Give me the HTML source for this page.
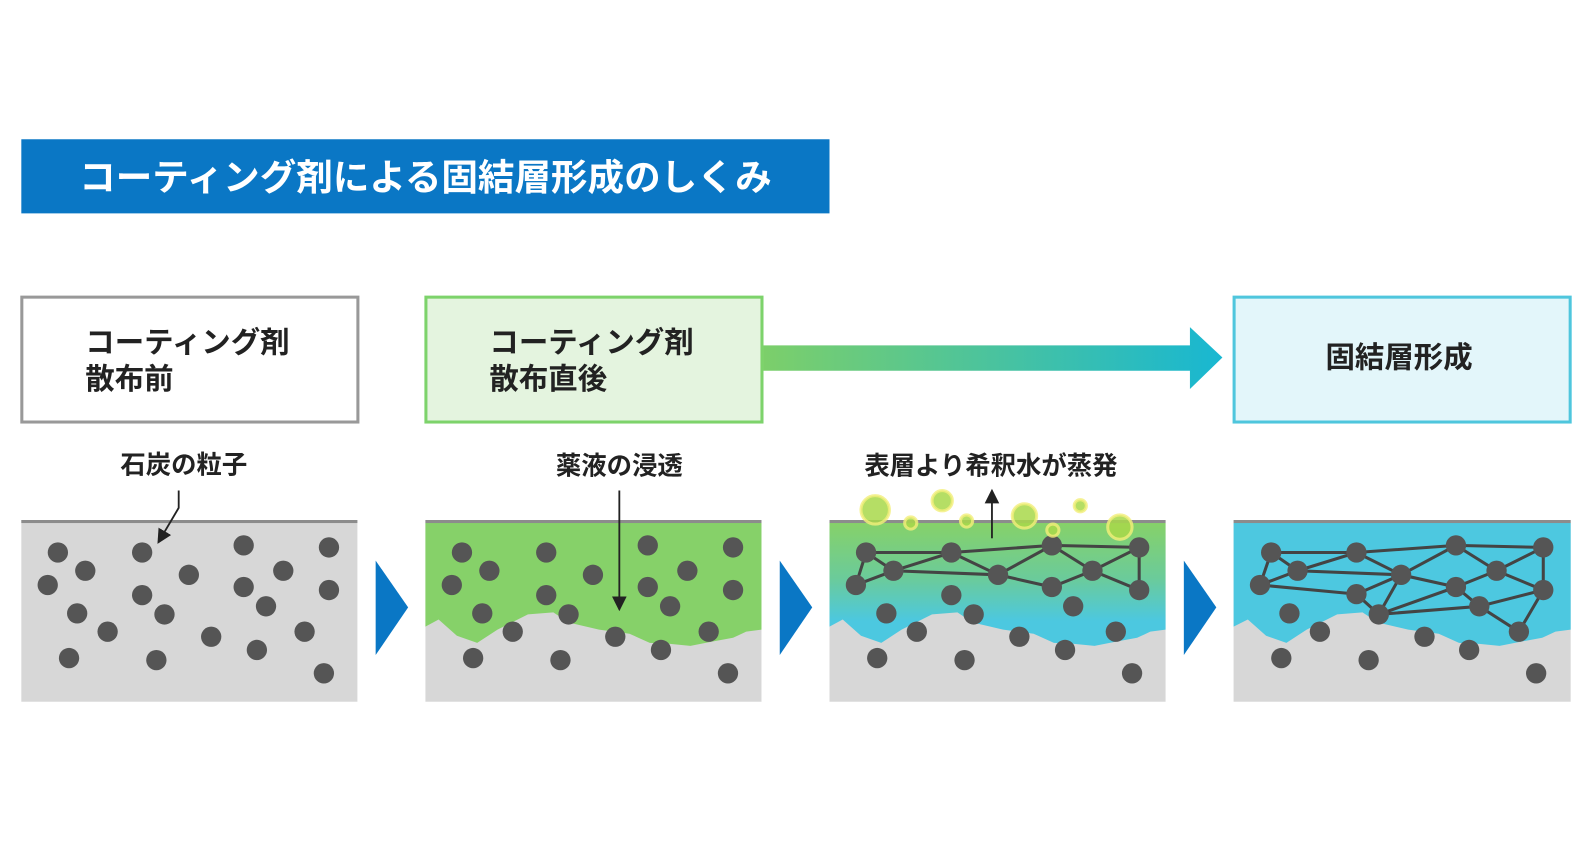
<!DOCTYPE html>
<html><head><meta charset="utf-8"><style>
body{margin:0;width:1592px;height:841px;background:#fff;overflow:hidden}
</style></head><body>
<svg width="1592" height="841" viewBox="0 0 1568 828" xmlns="http://www.w3.org/2000/svg" font-family="'Liberation Sans','Noto Sans CJK JP',sans-serif" font-weight="bold">
<defs>
<linearGradient id="ag" x1="0" x2="1"><stop offset="0" stop-color="#7ccf6a"/><stop offset="1" stop-color="#18b7d2"/></linearGradient>
<linearGradient id="pg" x1="0" y1="0" x2="0" y2="1"><stop offset="0" stop-color="#86d169"/><stop offset="0.45" stop-color="#6bcb9a"/><stop offset="0.8" stop-color="#4cc8e0"/></linearGradient>
<marker id="ah" markerWidth="8" markerHeight="8" refX="7" refY="4" orient="auto"><path d="M0,0 L8,4 L0,8 z" fill="#222"/></marker>
</defs>
<rect x="21" y="137" width="796" height="73" fill="#0a77c5"/>
<text x="78" y="187" fill="#fff" font-size="36">コーティング剤による固結層形成のしくみ</text>

<rect x="21.5" y="292.5" width="331" height="123" fill="#fff" stroke="#999" stroke-width="3"/>
<text x="84" y="347" font-size="29" fill="#222">コーティング剤</text>
<text x="84" y="383" font-size="29" fill="#222">散布前</text>
<rect x="419.5" y="292.5" width="331" height="123" fill="#e4f4df" stroke="#7dd36b" stroke-width="3"/>
<text x="482" y="347" font-size="29" fill="#222">コーティング剤</text>
<text x="482" y="383" font-size="29" fill="#222">散布直後</text>
<path d="M752,340 H1172 V322 L1204,352 L1172,383 V365 H752 Z" fill="url(#ag)"/>
<rect x="1215.5" y="292.5" width="331" height="123" fill="#e3f6fa" stroke="#4fc6dd" stroke-width="3"/>
<text x="1378" y="362" font-size="29" fill="#222" text-anchor="middle">固結層形成</text>

<text x="181" y="466" font-size="25" fill="#222" text-anchor="middle">石炭の粒子</text>
<text x="610" y="467" font-size="25" fill="#222" text-anchor="middle">薬液の浸透</text>
<text x="976" y="467" font-size="25" fill="#222" text-anchor="middle">表層より希釈水が蒸発</text>

<rect x="21" y="512" width="331" height="179" fill="#d7d7d7"/>
<rect x="21" y="512" width="331" height="3" fill="#8c8c8c"/>
<rect x="419" y="512" width="331" height="179" fill="#d7d7d7"/>
<path d="M419,515 H750 V620 L735,622 L722,628 L700,632 L680,636 L660,634 L640,633 L620,624 L590,620 L560,613 L545,603 L520,605 L490,620 L470,633 L450,626 L432,610 L419,617 Z" fill="#86d169"/>
<rect x="419" y="512" width="331" height="3" fill="#8c8c8c"/>
<rect x="817" y="512" width="331" height="179" fill="#d7d7d7"/>
<path d="M817,515 H1148 V620 L1133,622 L1120,628 L1098,632 L1078,636 L1058,634 L1038,633 L1018,624 L988,620 L958,613 L943,603 L918,605 L888,620 L868,633 L848,626 L830,610 L817,617 Z" fill="url(#pg)"/>
<rect x="817" y="512" width="331" height="3" fill="#8c8c8c"/>
<rect x="1215" y="512" width="332" height="179" fill="#d7d7d7"/>
<path d="M1215,515 H1547 V620 L1532,622 L1519,628 L1497,632 L1477,636 L1457,634 L1437,633 L1417,624 L1387,620 L1357,613 L1342,603 L1317,605 L1287,620 L1267,633 L1247,626 L1229,610 L1215,617 Z" fill="#4dc8e0"/>
<rect x="1215" y="512" width="332" height="3" fill="#8c8c8c"/>

<g fill="#0a77c5">
<path d="M370,552 L402,598 L370,645 Z"/>
<path d="M768,552 L800,598 L768,645 Z"/>
<path d="M1166,552 L1198,598 L1166,645 Z"/>
</g>

<g stroke="#444" stroke-width="3" fill="none">
<path d="M853,544 L937,544 L1036,537 L1122,539 M853,544 L843,576 L880,562 L853,544 M880,562 L937,544 L983,566 L1036,537 L1076,562 L1122,539 L1122,581 L1076,562 L1036,578 L983,566 L880,562"/>
<path d="M1252,544 L1336,544 L1434,537 L1520,539 M1252,544 L1241,576 L1278,562 L1252,544 M1278,562 L1336,544 L1380,566 L1434,537 L1474,562 L1520,539 L1520,581 L1474,562 L1434,578 L1380,566 L1278,562 M1241,576 L1336,585 L1380,566 L1358,605 L1434,578 L1457,597 L1520,581 L1496,622 L1457,597 L1358,605 L1336,585 M1434,578 L1474,562"/>
</g>

<g fill="#555">
<circle cx="57" cy="544" r="10"/><circle cx="84" cy="562" r="10"/><circle cx="47" cy="576" r="10"/><circle cx="140" cy="544" r="10"/><circle cx="186" cy="566" r="10"/><circle cx="140" cy="586" r="10"/><circle cx="76" cy="604" r="10"/><circle cx="106" cy="622" r="10"/><circle cx="162" cy="605" r="10"/><circle cx="68" cy="648" r="10"/><circle cx="154" cy="650" r="10"/><circle cx="240" cy="537" r="10"/><circle cx="279" cy="562" r="10"/><circle cx="240" cy="578" r="10"/><circle cx="262" cy="597" r="10"/><circle cx="208" cy="627" r="10"/><circle cx="253" cy="640" r="10"/><circle cx="300" cy="622" r="10"/><circle cx="324" cy="539" r="10"/><circle cx="324" cy="581" r="10"/><circle cx="319" cy="663" r="10"/>
<circle cx="455" cy="544" r="10"/><circle cx="482" cy="562" r="10"/><circle cx="445" cy="576" r="10"/><circle cx="538" cy="544" r="10"/><circle cx="584" cy="566" r="10"/><circle cx="538" cy="586" r="10"/><circle cx="475" cy="604" r="10"/><circle cx="505" cy="622" r="10"/><circle cx="560" cy="605" r="10"/><circle cx="466" cy="648" r="10"/><circle cx="552" cy="650" r="10"/><circle cx="638" cy="537" r="10"/><circle cx="677" cy="562" r="10"/><circle cx="638" cy="578" r="10"/><circle cx="660" cy="597" r="10"/><circle cx="606" cy="627" r="10"/><circle cx="651" cy="640" r="10"/><circle cx="698" cy="622" r="10"/><circle cx="722" cy="539" r="10"/><circle cx="722" cy="581" r="10"/><circle cx="717" cy="663" r="10"/>
<circle cx="853" cy="544" r="10"/><circle cx="880" cy="562" r="10"/><circle cx="843" cy="576" r="10"/><circle cx="937" cy="544" r="10"/><circle cx="983" cy="566" r="10"/><circle cx="1036" cy="537" r="10"/><circle cx="1036" cy="578" r="10"/><circle cx="1076" cy="562" r="10"/><circle cx="1122" cy="539" r="10"/><circle cx="1122" cy="581" r="10"/>
<circle cx="873" cy="604" r="10"/><circle cx="937" cy="586" r="10"/><circle cx="903" cy="622" r="10"/><circle cx="959" cy="605" r="10"/><circle cx="1004" cy="627" r="10"/><circle cx="1057" cy="597" r="10"/><circle cx="1099" cy="622" r="10"/><circle cx="864" cy="648" r="10"/><circle cx="950" cy="650" r="10"/><circle cx="1049" cy="640" r="10"/><circle cx="1115" cy="663" r="10"/>
<circle cx="1252" cy="544" r="10"/><circle cx="1278" cy="562" r="10"/><circle cx="1241" cy="576" r="10"/><circle cx="1336" cy="544" r="10"/><circle cx="1380" cy="566" r="10"/><circle cx="1434" cy="537" r="10"/><circle cx="1434" cy="578" r="10"/><circle cx="1474" cy="562" r="10"/><circle cx="1520" cy="539" r="10"/><circle cx="1520" cy="581" r="10"/><circle cx="1336" cy="585" r="10"/><circle cx="1358" cy="605" r="10"/><circle cx="1457" cy="597" r="10"/><circle cx="1496" cy="622" r="10"/>
<circle cx="1270" cy="604" r="10"/><circle cx="1300" cy="622" r="10"/><circle cx="1403" cy="627" r="10"/><circle cx="1262" cy="648" r="10"/><circle cx="1348" cy="650" r="10"/><circle cx="1447" cy="640" r="10"/><circle cx="1513" cy="663" r="10"/>
</g>

<g fill="#a8d84a" fill-opacity="0.85" stroke="#f2ef7a" stroke-width="3" stroke-opacity="0.8">
<circle cx="862" cy="502" r="14"/><circle cx="897" cy="515" r="6"/><circle cx="928" cy="493" r="10"/><circle cx="952" cy="513" r="6"/><circle cx="1009" cy="508" r="12"/><circle cx="1037" cy="522" r="6"/><circle cx="1064" cy="498" r="6"/><circle cx="1103" cy="519" r="12"/>
</g>

<g stroke="#222" stroke-width="1.8" fill="none">
<path d="M176,483 V500 L156,534" marker-end="url(#ah)"/>
<path d="M610,483 V600" marker-end="url(#ah)"/>
<path d="M977,530 V483" marker-end="url(#ah)"/>
</g>
</svg>
</body></html>
